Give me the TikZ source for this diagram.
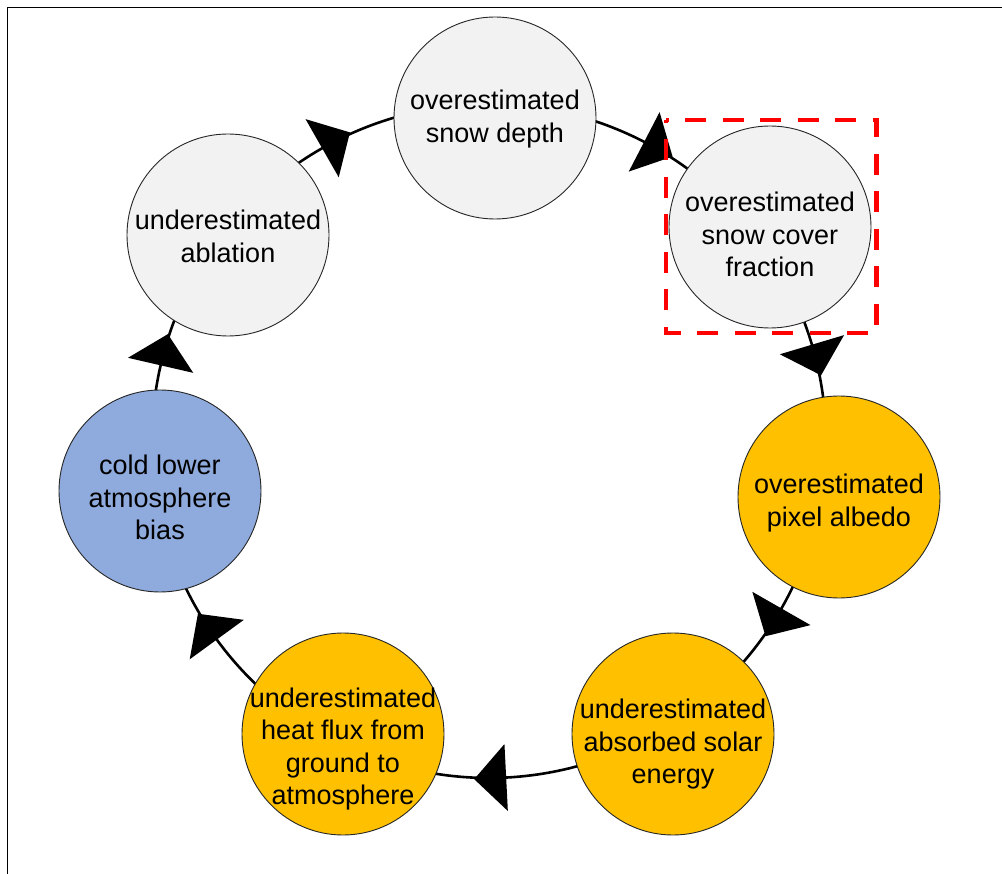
\documentclass[tikz,border=0pt]{standalone}
\usepackage{fontspec}
\setmainfont{Liberation Sans}
\usetikzlibrary{decorations.markings}
\definecolor{nodegray}{HTML}{F2F2F2}
\definecolor{nodeorange}{HTML}{FFC000}
\definecolor{nodeblue}{HTML}{8FAADC}
% text block centred d pt below the circle centre
\newcommand{\bubtext}[2]{\raisebox{\dimexpr-#1pt-6.75pt\relax}[0pt][0pt]{\begin{tabular}{@{}c@{}}#2\end{tabular}}}
\begin{document}
\begin{tikzpicture}[x=1pt,y=1pt,
  bubble/.style={circle, draw=black!85, line width=0.9pt, minimum size=202pt, inner sep=0pt,
                 font=\fontsize{27}{32.5}\selectfont},
  graybub/.style={bubble, fill=nodegray},
  orangebub/.style={bubble, fill=nodeorange},
  bluebub/.style={bubble, fill=nodeblue},
  link/.style={line width=2.6pt, draw=black},
  arrowat/.style={postaction={decorate}, decoration={markings,
     mark=at position #1 with {\fill[black] (0pt,33.5pt) -- (32pt,0pt) -- (0pt,-33.5pt) -- cycle;}}},
  highlight/.style={draw=red, line width=4.5pt, dash pattern=on 21pt off 16.5pt, dash phase=18.3pt}
]
\useasboundingbox (0,0) rectangle (1002,-874);
% frame
\draw[line width=1.8pt] (7.5,-874) -- (7.5,-7.5) -- (1002,-7.5);
% ring points
\coordinate (ring) at (489,-441);
\coordinate (r-abl)    at ([shift={(141.7:337pt)}]ring);
\coordinate (r-depth)  at ([shift={(88.9:337pt)}]ring);
\coordinate (r-cover)  at ([shift={(37.3:337pt)}]ring);
\coordinate (r-albedo) at ([shift={(-9.1:337pt)}]ring);
\coordinate (r-solar)  at ([shift={(-57.8:337pt)}]ring);
\coordinate (r-heat)   at ([shift={(-116.6:337pt)}]ring);
\coordinate (r-cold)   at ([shift={(-171.4:337pt)}]ring);
% connectors
\draw[link, arrowat=0.417] (r-abl)    arc[start angle=141.7, end angle=88.9,   radius=337pt];
\draw[link, arrowat=0.51]  (r-depth)  arc[start angle=88.9,  end angle=37.3,   radius=337pt];
\draw[link, arrowat=0.446] (r-cover)  arc[start angle=37.3,  end angle=-9.1,   radius=337pt];
\draw[link, arrowat=0.425] (r-albedo) arc[start angle=-9.1,  end angle=-57.8,  radius=337pt];
\draw[link, arrowat=0.498] (r-solar)  arc[start angle=-57.8, end angle=-116.6, radius=337pt];
\draw[link, arrowat=0.498] (r-heat)   arc[start angle=-116.6,end angle=-171.4, radius=337pt];
\draw[link, arrowat=0.46]  (r-cold)   arc[start angle=188.6, end angle=141.7,  radius=337pt];
% nodes
\node[graybub]   (depth)  at (495,-118) {\bubtext{1}{overestimated\\snow depth}};
\node[graybub]   (cover)  at (770,-227) {\bubtext{10}{overestimated\\snow cover\\fraction}};
\node[orangebub] (albedo) at (839,-497) {\bubtext{6}{overestimated\\pixel albedo}};
\node[orangebub] (solar)  at (673,-734) {\bubtext{10}{underestimated\\absorbed solar\\energy}};
\node[orangebub] (heat)   at (343,-734) {\bubtext{15}{underestimated\\heat flux from\\ground to\\atmosphere}};
\node[bluebub]   (cold)   at (160,-491) {\bubtext{9}{cold lower\\atmosphere\\bias}};
\node[graybub]   (abl)    at (228,-235) {\bubtext{4}{underestimated\\ablation}};
% highlight box
\draw[highlight] (666,-120) -- (876.5,-120) -- (876.5,-333) -- (666,-333) -- cycle;
\end{tikzpicture}
\end{document}
